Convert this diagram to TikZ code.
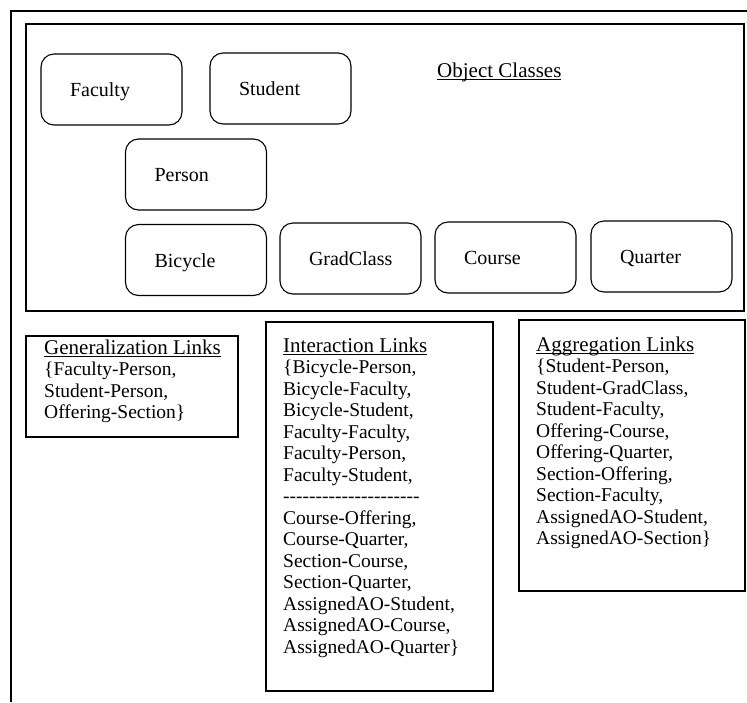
\documentclass[tikz,border=0pt]{standalone}
\usepackage{fontspec}
\setmainfont{Liberation Serif}
% underline drawn close to the baseline, through the descenders
\newcommand\ultext[1]{\leavevmode\setbox0\hbox{#1}\rlap{\copy0}\rule[-2.6pt]{\wd0}{0.9pt}}
% a row of separate hyphens (no dash ligatures)
\newcommand\hyphenrow{\foreach \k in {1,...,21}{\hbox{-}}}
\begin{document}
\begin{tikzpicture}[x=1pt,y=-1pt,
  frame/.style={draw, line width=1.2pt, rectangle, inner sep=0pt},
  classbox/.style={draw, line width=1.1pt, rounded corners=13pt,
    minimum width=141pt, minimum height=71pt, inner xsep=29pt,
    text width=83pt, align=left, text height=14pt, text depth=0pt,
    font=\fontsize{20}{22}\selectfont},
  heading/.style={anchor=base west, inner sep=0pt, font=\fontsize{21}{22}\selectfont},
  % multi-line lists: anchored at the baseline of their last line
  listtext/.style={anchor=base west, inner sep=0pt, align=left,
    font=\fontsize{19.5}{21.5}\selectfont},
]
\useasboundingbox (0,0) rectangle (747,702);

% outer page frame
\coordinate (outerTR) at (747,11);
\coordinate (outerTL) at (11,11);
\coordinate (outerBL) at (11,702);
\draw[line width=1.2pt] (outerTR) -- (outerTL) -- (outerBL);

% object classes panel
\node[frame, minimum width=718pt, minimum height=287pt] (classes) at (385,167.5) {};
\node[heading] (classtitle) at (437,77) {\ultext{Object Classes}};

\node[classbox] (faculty)   at (111.5,89.5)  {Faculty};
\node[classbox] (student)   at (280.5,88.5)  {Student};
\node[classbox] (person)    at (196,174.5)   {Person};
\node[classbox] (bicycle)   at (196,260)     {Bicycle};
\node[classbox] (gradclass) at (350.5,258.5) {GradClass};
\node[classbox] (course)    at (505.5,257.5) {Course};
\node[classbox] (quarter)   at (661.5,256.5) {Quarter};

% link lists
\node[frame, minimum width=212pt, minimum height=101pt] (genbox) at (132,386.5) {};
\node[listtext] (gentext) at (44,418.5) {%
  {\fontsize{21}{21.5}\selectfont\ultext{Generalization Links}}\\
  \{Faculty-Person,\\
  Student-Person,\\
  Offering-Section\}};

\node[frame, minimum width=227pt, minimum height=369pt] (intbox) at (379.5,506.5) {};
\node[listtext] (inttext) at (283,653) {%
  {\fontsize{21}{21.5}\selectfont\ultext{Interaction Links}}\\
  \{Bicycle-Person,\\
  Bicycle-Faculty,\\
  Bicycle-Student,\\
  Faculty-Faculty,\\
  Faculty-Person,\\
  Faculty-Student,\\
  \hyphenrow\\
  Course-Offering,\\
  Course-Quarter,\\
  Section-Course,\\
  Section-Quarter,\\
  AssignedAO-Student,\\
  AssignedAO-Course,\\
  AssignedAO-Quarter\}};

\node[frame, minimum width=226pt, minimum height=271pt] (aggbox) at (632,455.5) {};
\node[listtext] (aggtext) at (536,544.5) {%
  {\fontsize{21}{21.5}\selectfont\ultext{Aggregation Links}}\\
  \{Student-Person,\\
  Student-GradClass,\\
  Student-Faculty,\\
  Offering-Course,\\
  Offering-Quarter,\\
  Section-Offering,\\
  Section-Faculty,\\
  AssignedAO-Student,\\
  AssignedAO-Section\}};
\end{tikzpicture}
\end{document}
